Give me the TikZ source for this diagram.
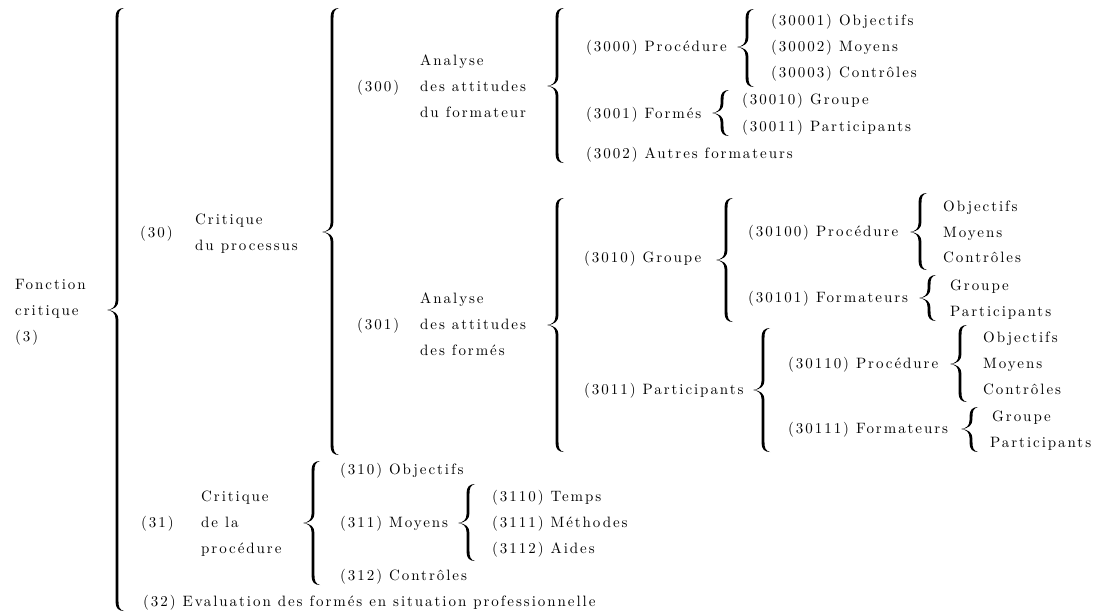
\documentclass[tikz,border=0pt]{standalone}
\usepackage{fontspec}
\newfontfamily\spacedfont{lmroman10-regular.otf}[LetterSpace=13]
\tikzset{
  lbl/.style={anchor=base west, inner sep=0pt, yshift=-4.5pt,
    font=\spacedfont\fontsize{15}{18}\selectfont},
}
% curly brace drawn as a filled outline:
% #1 tip x, #2 top y, #3 tip y, #4 bottom y  (y grows downwards)
\newcommand{\tbrace}[4]{%
  \pgfmathsetmacro\brS{#1+10}%
  \pgfmathsetmacro\brW{1.45}%
  \fill[black]
    ({\brS+7},#2)
    .. controls ({\brS+1.5},#2) and ({\brS-\brW},{#2+3}) .. ({\brS-\brW},{#2+9})
    -- ({\brS-\brW},{#3-9})
    .. controls ({\brS-\brW},{#3-3}) and ({\brS-5},{#3-0.6}) .. (#1,#3)
    .. controls ({\brS-5},{#3+0.6}) and ({\brS-\brW},{#3+3}) .. ({\brS-\brW},{#3+9})
    -- ({\brS-\brW},{#4-9})
    .. controls ({\brS-\brW},{#4-3}) and ({\brS+1.5},#4) .. ({\brS+7},#4)
    .. controls ({\brS+2.5},{#4-1.2}) and ({\brS+\brW},{#4-4}) .. ({\brS+\brW},{#4-10})
    -- ({\brS+\brW},{#3+10})
    .. controls ({\brS+\brW},{#3+4}) and ({\brS-2},{#3+0.5}) .. (#1,#3)
    .. controls ({\brS-2},{#3-0.5}) and ({\brS+\brW},{#3-4}) .. ({\brS+\brW},{#3-10})
    -- ({\brS+\brW},{#2+10})
    .. controls ({\brS+\brW},{#2+4}) and ({\brS+2.5},{#2+1.2}) .. ({\brS+7},#2)
    -- cycle;%
}
\begin{document}
\begin{tikzpicture}[x=1pt, y=-1pt]
\useasboundingbox (0,0) rectangle (1094,611);

% level 0
\node[lbl] (f1) at (15,285) {Fonction};
\node[lbl] (f2) at (15,311) {critique};
\node[lbl] (f3) at (15,337) {(3)};
\tbrace{107}{8}{310}{611}

% (30) Critique du processus
\node[lbl] (n30) at (140,233) {(30)};
\node[lbl] (n30a) at (195,220) {Critique};
\node[lbl] (n30b) at (195,246) {du processus};
\tbrace{322}{8}{232}{455}

% (300)
\node[lbl] (n300) at (357,87) {(300)};
\node[lbl] (n300a) at (420,61) {Analyse};
\node[lbl] (n300b) at (420,87) {des attitudes};
\node[lbl] (n300c) at (420,113) {du formateur};
\tbrace{547}{8}{86}{163}

\node[lbl] (n3000) at (586,47) {(3000) Procédure};
\tbrace{737}{9}{47}{87}
\node[lbl] (n30001) at (771,21) {(30001) Objectifs};
\node[lbl] (n30002) at (771,47) {(30002) Moyens};
\node[lbl] (n30003) at (771,73) {(30003) Contrôles};

\node[lbl] (n3001) at (586,114) {(3001) Formés};
\tbrace{712}{90}{113}{136}
\node[lbl] (n30010) at (742,100) {(30010) Groupe};
\node[lbl] (n30011) at (742,127) {(30011) Participants};

\node[lbl] (n3002) at (586,154) {(3002) Autres formateurs};

% (301)
\node[lbl] (n301) at (357,325) {(301)};
\node[lbl] (n301a) at (420,299) {Analyse};
\node[lbl] (n301b) at (420,325) {des attitudes};
\node[lbl] (n301c) at (420,351) {des formés};
\tbrace{547}{198}{325}{452}

\node[lbl] (n3010) at (584,258) {(3010) Groupe};
\tbrace{716}{198}{260}{322}
\node[lbl] (n30100) at (748,232) {(30100) Procédure};
\tbrace{910}{193}{232}{270}
\node[lbl] (n301000) at (943,207) {Objectifs};
\node[lbl] (n301001) at (943,233) {Moyens};
\node[lbl] (n301002) at (943,258) {Contrôles};
\node[lbl] (n30101) at (748,298) {(30101) Formateurs};
\tbrace{919}{275}{298}{321}
\node[lbl] (n301010) at (950,286) {Groupe};
\node[lbl] (n301011) at (950,312) {Participants};

\node[lbl] (n3011) at (584,390) {(3011) Participants};
\tbrace{753}{328}{390}{452}
\node[lbl] (n30110) at (788,364) {(30110) Procédure};
\tbrace{950}{325}{364}{402}
\node[lbl] (n301100) at (983,338) {Objectifs};
\node[lbl] (n301101) at (983,364) {Moyens};
\node[lbl] (n301102) at (983,390) {Contrôles};
\node[lbl] (n30111) at (788,429) {(30111) Formateurs};
\tbrace{961}{407}{429}{452}
\node[lbl] (n301110) at (992,417) {Groupe};
\node[lbl] (n301111) at (990,443) {Participants};

% (31) Critique de la procédure
\node[lbl] (n31) at (141,523) {(31)};
\node[lbl] (n31a) at (201,497) {Critique};
\node[lbl] (n31b) at (201,523) {de la};
\node[lbl] (n31c) at (201,549) {procédure};
\tbrace{303}{461}{523}{585}
\node[lbl] (n310) at (340,470) {(310) Objectifs};
\node[lbl] (n311) at (340,523) {(311) Moyens};
\tbrace{458}{484}{523}{561}
\node[lbl] (n3110) at (492,497) {(3110) Temps};
\node[lbl] (n3111) at (492,523) {(3111) Méthodes};
\node[lbl] (n3112) at (492,549) {(3112) Aides};
\node[lbl] (n312) at (340,576) {(312) Contrôles};

% (32)
\node[lbl] (n32) at (143,602) {(32) Evaluation des formés en situation professionnelle};
\end{tikzpicture}
\end{document}
